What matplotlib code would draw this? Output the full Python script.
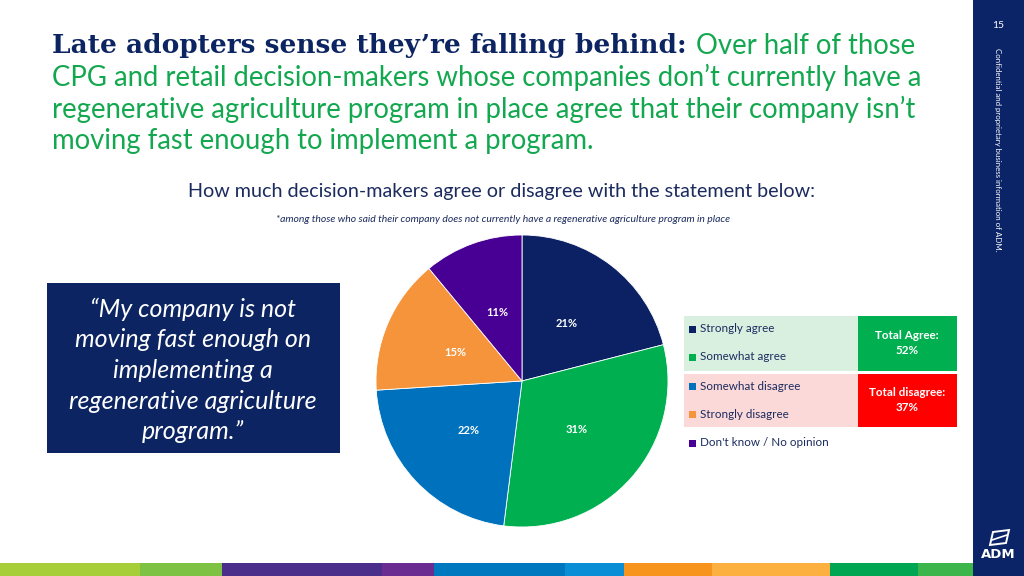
import matplotlib
matplotlib.use("Agg")
import numpy as np
import matplotlib.pyplot as plt
from matplotlib.patches import Rectangle, Polygon

# =========================
# data
# =========================
categories = ["Strongly agree", "Somewhat agree", "Somewhat disagree",
              "Strongly disagree", "Don't know / No opinion"]
shares = [21, 31, 22, 15, 11]
colors = ["#0b2163", "#00b050", "#0071bd", "#f5943a", "#480094"]

total_agree = shares[0] + shares[1]
total_disagree = shares[2] + shares[3]

NAVY = "#0c2461"
GREEN_TXT = "#13a850"
SIDEBAR = "#0b2467"

# decorative strip at the bottom of the slide (x start, x end, colour)
strip = [(0, 140, "#a6ce39"), (140, 222, "#7dc242"), (222, 382, "#4b2e8a"),
         (382, 434, "#6a2c91"), (434, 565, "#0078bf"), (565, 624, "#0a8fd6"),
         (624, 712, "#f7941d"), (712, 830, "#fbb040"), (830, 918, "#00a651"),
         (918, 973, "#3cb54a")]

fig = plt.figure(figsize=(10.24, 5.76), dpi=100)
fig.patch.set_facecolor("white")

# background axes in pixel coordinates
bg = fig.add_axes([0, 0, 1, 1])
bg.set_xlim(0, 1024)
bg.set_ylim(576, 0)
bg.axis("off")

# =========================
# title
# =========================
t1 = bg.text(52, 46, "Late adopters sense they\u2019re falling behind:",
             fontsize=19, fontweight="bold", family="DejaVu Serif",
             color=NAVY, va="center", ha="left")
fig.canvas.draw()
bb = t1.get_window_extent().transformed(bg.transData.inverted())
x_end = max(bb.x0, bb.x1)
bg.text(x_end + 9, 46, "Over half of those", fontsize=19.8, family="Lato",
        color=GREEN_TXT, va="center", ha="left")
title_rest = ["CPG and retail decision-makers whose companies don\u2019t currently have a",
              "regenerative agriculture program in place agree that their company isn\u2019t",
              "moving fast enough to implement a program."]
for i, line in enumerate(title_rest):
    bg.text(52, 77 + i * 32, line, fontsize=19.8, family="Lato",
            color=GREEN_TXT, va="center", ha="left")

# subtitle + footnote
bg.text(502, 192, "How much decision-makers agree or disagree with the statement below:",
        fontsize=14.2, family="Lato", color="#1b2b5e", ha="center", va="center")
bg.text(503, 219, "*among those who said their company does not currently have a "
        "regenerative agriculture program in place",
        fontsize=7.5, family="Lato", style="italic", color="#1b2b5e",
        ha="center", va="center")

# =========================
# quote box
# =========================
bg.add_patch(Rectangle((47, 283), 293, 170, facecolor=NAVY, edgecolor="none"))
quote = ["\u201cMy company is not", "moving fast enough on", "implementing a",
         "regenerative agriculture", "program.\u201d"]
for i, line in enumerate(quote):
    bg.text(193, 309 + i * 30.7, line, fontsize=18, family="Lato",
            style="italic", color="white", ha="center", va="center")

# =========================
# legend / totals
# =========================
bg.add_patch(Rectangle((684, 316), 174, 55, facecolor="#d9f0e0", edgecolor="none"))
bg.add_patch(Rectangle((858, 316), 99, 55, facecolor="#00b050", edgecolor="none"))
bg.add_patch(Rectangle((684, 374), 174, 53, facecolor="#fbd9d9", edgecolor="none"))
bg.add_patch(Rectangle((858, 374), 99, 53, facecolor="#ff0000", edgecolor="none"))

leg_y = [329, 357, 386, 414, 443]
for cat, col, y in zip(categories, colors, leg_y):
    bg.add_patch(Rectangle((689, y - 3.5), 7, 7, facecolor=col, edgecolor="none"))
    bg.text(700, y, cat, fontsize=8.4, family="Lato", color="#1b2b5e",
            ha="left", va="center")

bg.text(907, 343, f"Total Agree:\n{total_agree}%", fontsize=8.4, family="Lato",
        fontweight="bold", color="white", ha="center", va="center",
        linespacing=1.5)
bg.text(907, 400, f"Total disagree:\n{total_disagree}%", fontsize=8.4,
        family="Lato", fontweight="bold", color="white", ha="center",
        va="center", linespacing=1.5)

# =========================
# right sidebar
# =========================
bg.add_patch(Rectangle((973, 0), 51, 576, facecolor=SIDEBAR, edgecolor="none"))
bg.text(998, 26, "15", fontsize=7.5, family="Lato", color="white",
        ha="center", va="center")
bg.text(998, 48, "Confidential and proprietary business information of ADM.",
        fontsize=5.7, family="Lato", color="white", rotation=-90,
        ha="center", va="top")
bg.add_patch(Polygon([(990, 545), (993, 532), (1009, 530), (1006, 543)],
                     closed=True, facecolor="none", edgecolor="white", lw=1.4))
bg.plot([992, 1007], [540, 535], color="white", lw=1.2)
bg.text(998, 554, "ADM", fontsize=9.5, family="DejaVu Sans", fontweight="bold",
        color="white", ha="center", va="center")

# bottom strip
for x0, x1, col in strip:
    bg.add_patch(Rectangle((x0, 563), x1 - x0, 13, facecolor=col, edgecolor="none"))

# =========================
# pie
# =========================
cx, cy, r = 522, 381, 146
pie_ax = fig.add_axes([(cx - r) / 1024, (576 - cy - r) / 576, 2 * r / 1024, 2 * r / 576])
wedges, _ = pie_ax.pie(shares, colors=colors, startangle=90, counterclock=False,
                       wedgeprops=dict(edgecolor="white", linewidth=0.6))
pie_ax.set_xlim(-1, 1)
pie_ax.set_ylim(-1, 1)

for val, w in zip(shares, wedges):
    mid = np.deg2rad((w.theta1 + w.theta2) / 2)
    pie_ax.text(0.5 * np.cos(mid), 0.5 * np.sin(mid), f"{val}%", fontsize=8,
                family="Lato", fontweight="bold", color="white",
                ha="center", va="center")

fig.savefig("out.png", dpi=100)
